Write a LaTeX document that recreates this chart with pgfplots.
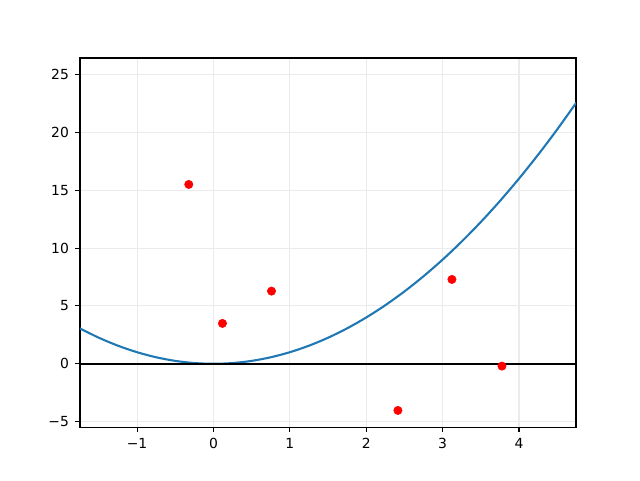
\documentclass[border=0pt]{standalone}
\usepackage{fontspec}
\setmainfont{DejaVu Sans}
\usepackage{pgfplots}
\pgfplotsset{compat=1.18}
\definecolor{mplblue}{HTML}{1F77B4}
\begin{document}
\begin{tikzpicture}
\begin{axis}[
  scale only axis,
  width=357.1pt, height=265.7pt,
  xmin=-1.747, xmax=4.746,
  ymin=-5.47, ymax=26.42,
  axis line style={line width=0.8pt},
  tick align=outside,
  xtick pos=left, ytick pos=left,
  major tick length=3.5pt,
  every tick/.style={black, line width=0.8pt},
  xtick={-1,0,1,2,3,4},
  xticklabels={−1,0,1,2,3,4},
  ytick={-5,0,5,10,15,20,25},
  yticklabels={−5,0,5,10,15,20,25},
  tick label style={font=\fontsize{10}{12}\selectfont},
  xticklabel style={yshift=-1pt},
  yticklabel style={xshift=-1pt},
  grid=major,
  major grid style={color=black!8, line width=0.8pt},
  clip=true,
]
\coordinate (sw) at (rel axis cs:0,0);
\coordinate (ne) at (rel axis cs:1,1);
\addplot[mplblue, line width=1.5pt, smooth] coordinates {
(-1.75,3.0625) (-1.5,2.25) (-1.25,1.5625) (-1,1) (-0.75,0.5625) (-0.5,0.25)
(-0.25,0.0625) (0,0) (0.25,0.0625) (0.5,0.25) (0.75,0.5625) (1,1)
(1.25,1.5625) (1.5,2.25) (1.75,3.0625) (2,4) (2.25,5.0625) (2.5,6.25)
(2.75,7.5625) (3,9) (3.25,10.5625) (3.5,12.25) (3.75,14.0625) (4,16)
(4.25,18.0625) (4.5,20.25) (4.75,22.5625)
};
\addplot[only marks, mark=*, mark size=3pt, color=red] coordinates {
(-0.323,15.5) (0.118,3.49) (0.76,6.28) (2.415,-4.03) (3.122,7.29) (3.777,-0.2)
};
\addplot[black, line width=1.5pt] coordinates {(-1.747,0) (4.746,0)};
\end{axis}
\useasboundingbox ([shift={(-57.6pt,-38.2pt)}]sw) rectangle ([shift={(46.1pt,41.8pt)}]ne);
\end{tikzpicture}
\end{document}
